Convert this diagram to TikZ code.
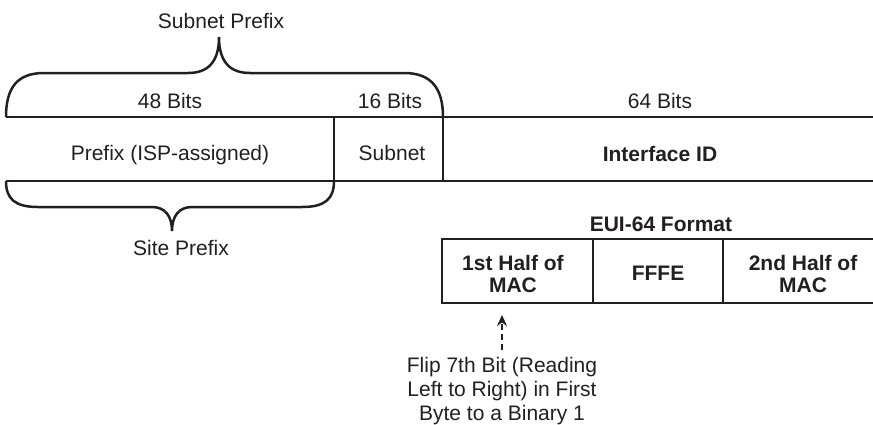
\documentclass[tikz,border=0pt]{standalone}
\usepackage{fontspec}
\setmainfont{Liberation Sans}
\usetikzlibrary{arrows.meta,positioning}
\definecolor{inkgray}{RGB}{35,31,32}
\tikzset{
  lbl/.style={font=\fontsize{10.5}{11}\selectfont, text=inkgray, inner sep=0pt, align=center},
  blbl/.style={lbl, font=\fontsize{10.5}{11}\selectfont\bfseries},
  addrline/.style={draw=inkgray, line width=1.4pt},
  bracepath/.style={draw=inkgray, line width=1.25pt},
  flipdash/.style={-{Stealth[length=5.5pt,width=5pt]}, draw=inkgray, line width=1.3pt,
                   dash pattern=on 3pt off 2pt},
}

\begin{document}
\begin{tikzpicture}[x=0.5pt, y=-0.5pt]
    \useasboundingbox (0,0) rectangle (873,424);
    % address bar
    \draw[addrline] (6,117) -- (873,117) (6,181) -- (873,181);
    \draw[addrline] (334,117) -- (334,181) (443,117) -- (443,181);
    \node[lbl, anchor=base] (b48) at (170,108) {48 Bits};
    \node[lbl, anchor=base] (b16) at (390,108) {16 Bits};
    \node[lbl, anchor=base] (b64) at (660,108) {64 Bits};
    \node[lbl, anchor=base] (isp) at (170,160) {Prefix (ISP-assigned)};
    \node[lbl, anchor=base] (subnet) at (392,160) {Subnet};
    \node[blbl, anchor=base] (ifid) at (660,161) {Interface ID};
    % braces
    \draw[bracepath] (6,117) .. controls (6,88) and (17,73) .. (44,73) -- (188,73)
        .. controls (208,73) and (219,62) .. (219,37)
        .. controls (219,62) and (230,73) .. (250,73) -- (404,73)
        .. controls (431,73) and (443,88) .. (443,117);
    \node[lbl, anchor=base] (subpfx) at (221,28) {Subnet Prefix};
    \draw[bracepath] (6,181) .. controls (6,199) and (15,207) .. (38,207) -- (152,207)
        .. controls (165,207) and (172,216) .. (172,231)
        .. controls (172,216) and (179,207) .. (192,207) -- (302,207)
        .. controls (325,207) and (334,199) .. (334,181);
    \node[lbl, anchor=base] (sitepfx) at (181,255) {Site Prefix};
    % EUI-64
    \node[blbl, anchor=base] (euihead) at (661,231) {EUI-64 Format};
    \draw[addrline] (873,239) -- (442,239) -- (442,303) -- (873,303);
    \draw[addrline] (593,239) -- (593,303) (723,239) -- (723,303);
    \node[blbl, anchor=north] (half1) at (513,255) {1st Half of\\MAC};
    \node[blbl] (fffe) at (658,273) {FFFE};
    \node[blbl, anchor=north] (half2) at (803,255) {2nd Half of\\MAC};
    \node[lbl, anchor=north, font=\fontsize{10.5}{12}\selectfont] (fliptxt) at (502,357)
        {Flip 7th Bit (Reading\\Left to Right) in First\\Byte to a Binary 1};
    \coordinate (fliptip) at (502,315);
    \draw[flipdash, shorten <=3.5pt] (fliptxt.north) -- (fliptip);
\end{tikzpicture}
\end{document}
